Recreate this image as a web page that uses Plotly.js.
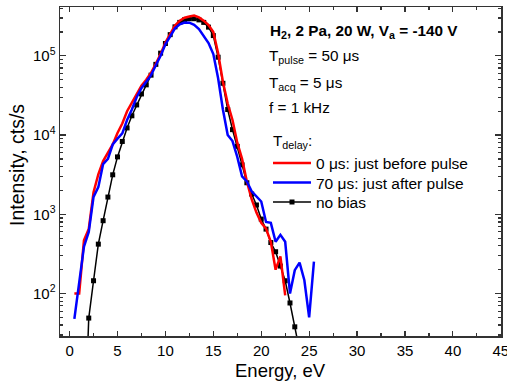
<!DOCTYPE html>
<html>
<head>
<meta charset="utf-8">
<script src="https://cdn.plot.ly/plotly-3.0.1.min.js"></script>
<style>html,body{margin:0;padding:0;background:#fff;}#chart{width:507px;height:383px;}</style>
</head>
<body>
<div id="chart"></div>
<script>
// Energy grids (eV)
const energyNoBias = [1.5,2.0,2.5,3.0,3.5,4.0,4.5,5.0,5.5,6.0,6.5,7.0,7.5,8.0,8.5,9.0,9.5,10.0,10.5,11.0,11.5,12.0,12.5,13.0,13.5,14.0,14.5,15.0,15.5,16.0,16.5,17.0,17.5,18.0,18.5,19.0,19.5,20.0,20.5,21.0,21.5,22.0,22.5,23.0,23.5,24.0];
const intensityNoBias = [1,49,145,420,830,1650,3150,5300,8300,12300,17500,24000,33000,43000,57000,78000,108000,143000,185000,232000,264000,285000,294000,294000,284000,264000,230000,180000,96000,45000,21000,11700,7200,4200,2500,1800,1310,870,650,440,337,222,145,76,38,19];

const energyBefore = [0.5,1.0,1.5,2.0,2.5,3.0,3.5,4.0,4.5,5.0,5.5,6.0,6.5,7.0,7.5,8.0,8.5,9.0,9.5,10.0,10.5,11.0,11.5,12.0,12.5,13.0,13.5,14.0,14.5,15.0,15.5,16.0,16.5,17.0,17.5,18.0,18.5,19.0,19.5,20.0,20.5,21.0,21.5,22.0,22.5];
const intensityBefore = [100,100,470,650,1900,3200,4700,6000,7600,10600,14000,20000,26000,33000,42000,50000,61000,79000,105000,147000,192000,242000,278000,302000,314000,322000,305000,278000,245000,200000,108000,47000,25000,15500,8000,5000,2600,1550,1050,780,660,450,200,295,95];

const energyAfter = [0.5,1.0,1.5,2.0,2.5,3.0,3.5,4.0,4.5,5.0,5.5,6.0,6.5,7.0,7.5,8.0,8.5,9.0,9.5,10.0,10.5,11.0,11.5,12.0,12.5,13.0,13.5,14.0,14.5,15.0,15.5,16.0,16.5,17.0,17.5,18.0,18.5,19.0,19.5,20.0,20.5,21.0,21.5,22.0,22.5,23.0,23.5,24.0,24.5,25.0,25.5];
const intensityAfter = [48,135,390,600,1660,2200,4300,5000,7600,9000,10500,15500,21000,30000,39000,47000,57000,76000,100000,140000,180000,222000,250000,263000,262000,246000,218000,180000,145000,105000,52000,21000,10000,8400,5300,3000,2600,1950,1680,1450,800,780,450,550,450,100,197,245,147,50,252];

const xTickVals = [0,5,10,15,20,25,30,35,40,45];
const yTickVals = [100,1000,10000,100000];
const yTickText = ['10<sup>2</sup>','10<sup>3</sup>','10<sup>4</sup>','10<sup>5</sup>'];

const FONT = 'Liberation Sans, Arial, sans-serif';

const yMinor = [];
for (let d = 10; d <= 100000; d *= 10) {
  for (let k = 2; k <= 9; k++) yMinor.push(k * d);
}

const traces = [
  {x: energyNoBias, y: intensityNoBias, type: 'scatter', mode: 'lines+markers',
   name: 'no bias', legend: 'legend3',
   line: {color: '#000000', width: 1.5},
   marker: {symbol: 'square', size: 5, color: '#000000'}},
  {x: energyBefore, y: intensityBefore, type: 'scatter', mode: 'lines',
   name: '0 μs: just before pulse', legend: 'legend',
   line: {color: '#ff0000', width: 2.5}},
  {x: energyAfter, y: intensityAfter, type: 'scatter', mode: 'lines',
   name: '70 μs: just after pulse', legend: 'legend2',
   line: {color: '#0000ff', width: 2.5}}
];

const px = v => (v - 60) / 441;
const py = v => (336 - v) / 329;

const legendStyle = (ycenter) => ({
  x: px(268), y: py(ycenter), xanchor: 'left', yanchor: 'middle',
  bgcolor: 'rgba(0,0,0,0)', borderwidth: 0, itemwidth: 38,
  font: {family: FONT, size: 15.5, color: '#000'}
});

const layout = {
  width: 507, height: 383,
  margin: {l: 60, r: 6, t: 7, b: 47},
  paper_bgcolor: '#ffffff', plot_bgcolor: '#ffffff',
  font: {family: FONT, color: '#000000', size: 15},
  showlegend: true,
  legend: legendStyle(163.5),
  legend2: legendStyle(183),
  legend3: legendStyle(202.5),
  xaxis: {
    range: [-1, 45.02], tickmode: 'array', tickvals: xTickVals,
    ticks: 'inside', ticklen: 5, tickwidth: 1.2, tickcolor: '#333',
    showline: true, linecolor: '#333', linewidth: 1.5, mirror: 'ticks',
    showgrid: false, zeroline: false, ticklabeloverflow: 'allow',
    tickfont: {family: FONT, size: 15, color: '#000'},
    minor: {tickmode: 'linear', tick0: 0, dtick: 2.5, ticks: 'inside', ticklen: 3, tickwidth: 1.2, tickcolor: '#333', showgrid: false}
  },
  yaxis: {
    type: 'log', range: [1.464, 5.616], tickmode: 'array', tickvals: yTickVals, ticktext: yTickText,
    ticks: 'inside', ticklen: 6, tickwidth: 1.2, tickcolor: '#333',
    showline: true, linecolor: '#333', linewidth: 1.5, mirror: 'ticks',
    showgrid: false, zeroline: false,
    tickfont: {family: FONT, size: 15, color: '#000'},
    minor: {tickmode: 'array', tickvals: yMinor, ticks: 'inside', ticklen: 3, tickwidth: 1.2, tickcolor: '#333', showgrid: false}
  },
  annotations: [
    {xref: 'paper', yref: 'paper', x: 0.5, y: py(370), xanchor: 'center', yanchor: 'middle', showarrow: false,
     text: 'Energy, eV', font: {family: FONT, size: 18.5, color: '#000'}},
    {xref: 'paper', yref: 'paper', x: px(16.5), y: py(165.5), xanchor: 'center', yanchor: 'middle', showarrow: false,
     textangle: -90, text: 'Intensity, cts/s', font: {family: FONT, size: 19.5, color: '#000'}},
    {xref: 'paper', yref: 'paper', x: px(268), y: py(32), xanchor: 'left', yanchor: 'middle', showarrow: false,
     text: '<b>H<sub>2</sub>, 2 Pa, 20 W, V<sub>a</sub> = -140 V</b>', font: {family: FONT, size: 15.3, color: '#000'}},
    {xref: 'paper', yref: 'paper', x: px(267), y: py(57), xanchor: 'left', yanchor: 'middle', showarrow: false,
     text: 'T<sub>pulse</sub> = 50 μs', font: {family: FONT, size: 15.3, color: '#000'}},
    {xref: 'paper', yref: 'paper', x: px(267), y: py(83), xanchor: 'left', yanchor: 'middle', showarrow: false,
     text: 'T<sub>acq</sub> = 5 μs', font: {family: FONT, size: 15.3, color: '#000'}},
    {xref: 'paper', yref: 'paper', x: px(267), y: py(107.5), xanchor: 'left', yanchor: 'middle', showarrow: false,
     text: 'f = 1 kHz', font: {family: FONT, size: 15.3, color: '#000'}},
    {xref: 'paper', yref: 'paper', x: px(271), y: py(141), xanchor: 'left', yanchor: 'middle', showarrow: false,
     text: 'T<sub>delay</sub>:', font: {family: FONT, size: 15.3, color: '#000'}}
  ]
};

Plotly.newPlot('chart', traces, layout, {displayModeBar: false, staticPlot: true});
</script>
</body>
</html>
